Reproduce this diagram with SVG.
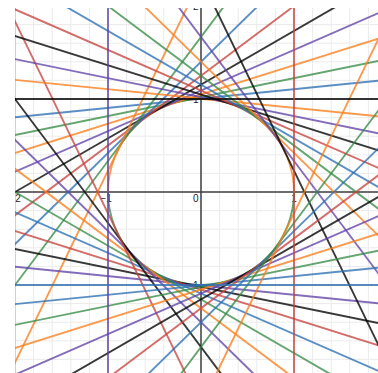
<svg xmlns="http://www.w3.org/2000/svg" width="378" height="373" viewBox="0 0 378 373">
<defs>
<clipPath id="plot"><rect x="15" y="8" width="363" height="365"/></clipPath>
</defs>
<style>
.minor{fill:none;stroke:#ebebeb;stroke-width:1}
.major{fill:none;stroke:#d2d2d2;stroke-width:1}
.axis{fill:none;stroke:#3c3c3c;stroke-width:1.5}
.lbl{font-family:"Liberation Sans",Arial,sans-serif;font-size:10px;fill:#222}
.t{fill:none;stroke-width:1.9;stroke-opacity:0.78}
.r{stroke:#c74440}.b{stroke:#2d70b3}.g{stroke:#388c46}.o{stroke:#fa7e19}.p{stroke:#6042a6}.k{stroke:#000}
</style>
<rect width="378" height="373" fill="#fff"/>
<g clip-path="url(#plot)">
<g id="grid">
<path class="minor" d="M33.6 8V373M52.2 8V373M70.8 8V373M89.4 8V373M126.6 8V373M145.2 8V373M163.8 8V373M182.4 8V373M219.6 8V373M238.2 8V373M256.8 8V373M275.4 8V373M312.6 8V373M331.2 8V373M349.8 8V373M368.4 8V373M15 24.6H378M15 43.2H378M15 61.8H378M15 80.4H378M15 117.6H378M15 136.2H378M15 154.8H378M15 173.4H378M15 210.6H378M15 229.2H378M15 247.8H378M15 266.4H378M15 303.6H378M15 322.2H378M15 340.8H378M15 359.4H378"/>
<path class="major" d="M15.5 8V373M108 8V373M294 8V373M15 99H378M15 285H378"/>
</g>
<g id="axes">
<path class="axis" d="M201 8V373M15 192H378"/>
</g>
<g id="labels" class="lbl">
<text x="15" y="202" text-anchor="middle">−2</text>
<text x="106" y="202" text-anchor="middle">−1</text>
<text x="198.5" y="202" text-anchor="end">0</text>
<text x="294" y="202" text-anchor="middle">1</text>
<text x="198.5" y="10" text-anchor="end">2</text>
<text x="198.5" y="103" text-anchor="end">1</text>
<text x="198.5" y="289" text-anchor="end">−1</text>
</g>
<g id="circle">
<path class="t o" d="M108 192A93 93 0 0 1 294 192"/>
<path class="t g" d="M294 192A93 93 0 0 1 108 192"/>
</g>
<g id="connectors">
<line class="t b" x1="294" y1="-220" x2="294" y2="604" transform="rotate(-95.739 201 192)"/>
<line class="t g" x1="294" y1="-220" x2="294" y2="604" transform="rotate(-101.537 201 192)"/>
<line class="t o" x1="294" y1="-220" x2="294" y2="604" transform="rotate(-107.458 201 192)"/>
<line class="t p" x1="294" y1="-220" x2="294" y2="604" transform="rotate(-113.578 201 192)"/>
<line class="t k" x1="294" y1="-220" x2="294" y2="604" transform="rotate(-120 201 192)"/>
<line class="t r" x1="294" y1="-220" x2="294" y2="604" transform="rotate(-126.870 201 192)"/>
<line class="t b" x1="294" y1="-220" x2="294" y2="604" transform="rotate(-134.427 201 192)"/>
<line class="t g" x1="294" y1="-220" x2="294" y2="604" transform="rotate(-143.130 201 192)"/>
<line class="t o" x1="294" y1="-220" x2="294" y2="604" transform="rotate(-154.158 201 192)"/>
<line class="t p" x1="294" y1="-220" x2="294" y2="604" transform="rotate(95.739 201 192)"/>
<line class="t k" x1="294" y1="-220" x2="294" y2="604" transform="rotate(101.537 201 192)"/>
<line class="t r" x1="294" y1="-220" x2="294" y2="604" transform="rotate(107.458 201 192)"/>
<line class="t b" x1="294" y1="-220" x2="294" y2="604" transform="rotate(113.578 201 192)"/>
<line class="t g" x1="294" y1="-220" x2="294" y2="604" transform="rotate(120 201 192)"/>
<line class="t o" x1="294" y1="-220" x2="294" y2="604" transform="rotate(126.870 201 192)"/>
<line class="t p" x1="294" y1="-220" x2="294" y2="604" transform="rotate(134.427 201 192)"/>
<line class="t k" x1="294" y1="-220" x2="294" y2="604" transform="rotate(143.130 201 192)"/>
<line class="t r" x1="294" y1="-220" x2="294" y2="604" transform="rotate(154.158 201 192)"/>
<line class="t o" x1="294" y1="-220" x2="294" y2="604" transform="rotate(-84.261 201 192)"/>
<line class="t p" x1="294" y1="-220" x2="294" y2="604" transform="rotate(-78.463 201 192)"/>
<line class="t k" x1="294" y1="-220" x2="294" y2="604" transform="rotate(-72.542 201 192)"/>
<line class="t r" x1="294" y1="-220" x2="294" y2="604" transform="rotate(-66.422 201 192)"/>
<line class="t b" x1="294" y1="-220" x2="294" y2="604" transform="rotate(-60 201 192)"/>
<line class="t g" x1="294" y1="-220" x2="294" y2="604" transform="rotate(-53.130 201 192)"/>
<line class="t o" x1="294" y1="-220" x2="294" y2="604" transform="rotate(-45.573 201 192)"/>
<line class="t p" x1="294" y1="-220" x2="294" y2="604" transform="rotate(-36.870 201 192)"/>
<line class="t k" x1="294" y1="-220" x2="294" y2="604" transform="rotate(-25.842 201 192)"/>
<line class="t b" x1="294" y1="-220" x2="294" y2="604" transform="rotate(84.261 201 192)"/>
<line class="t g" x1="294" y1="-220" x2="294" y2="604" transform="rotate(78.463 201 192)"/>
<line class="t o" x1="294" y1="-220" x2="294" y2="604" transform="rotate(72.542 201 192)"/>
<line class="t p" x1="294" y1="-220" x2="294" y2="604" transform="rotate(66.422 201 192)"/>
<line class="t k" x1="294" y1="-220" x2="294" y2="604" transform="rotate(60 201 192)"/>
<line class="t r" x1="294" y1="-220" x2="294" y2="604" transform="rotate(53.130 201 192)"/>
<line class="t b" x1="294" y1="-220" x2="294" y2="604" transform="rotate(45.573 201 192)"/>
<line class="t g" x1="294" y1="-220" x2="294" y2="604" transform="rotate(36.870 201 192)"/>
<line class="t o" x1="294" y1="-220" x2="294" y2="604" transform="rotate(25.842 201 192)"/>
<line class="t p" x1="108" y1="-220" x2="108" y2="604"/>
<line class="t k" x1="-220" y1="99" x2="604" y2="99"/>
<line class="t r" x1="294" y1="-220" x2="294" y2="604"/>
<line class="t b" x1="-220" y1="285" x2="604" y2="285"/>
</g>
</g>
</svg>
